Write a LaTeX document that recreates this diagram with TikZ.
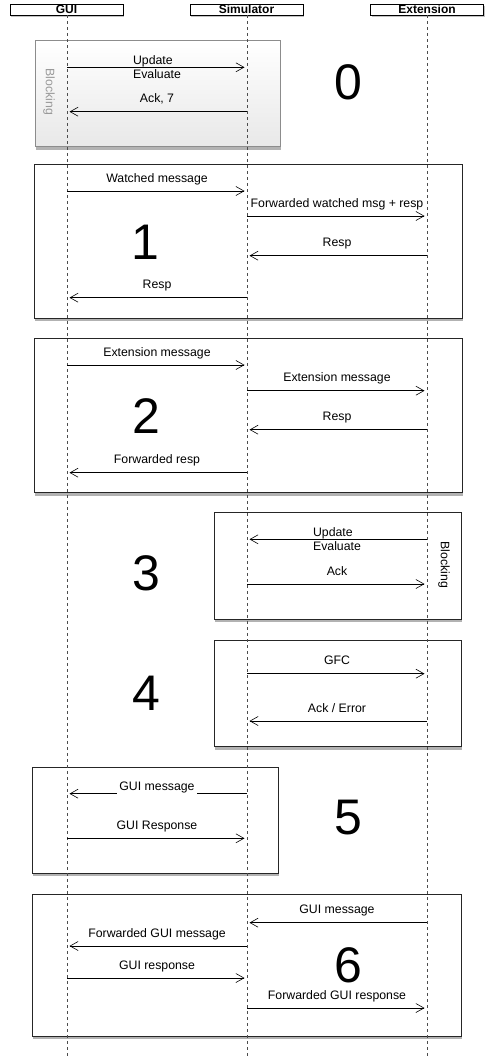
\documentclass[tikz,border=0pt]{standalone}
\usepackage{fontspec}
\setmainfont{Liberation Sans}
\usepackage{tikz}
\usetikzlibrary{arrows.meta,shadows}

\begin{document}
\begin{tikzpicture}[x=1pt, y=-1pt, >={Straight Barb[length=8pt,width=9pt]},
  head/.style={draw, fill=white, font=\bfseries\fontsize{12}{12}\selectfont,
    minimum width=113pt, minimum height=11pt, inner sep=0pt,
    drop shadow={shadow xshift=1pt, shadow yshift=-2pt, opacity=0.4, fill=black!60}},
  frame/.style={draw=black!85, fill=white, line width=0.8pt,
    drop shadow={shadow xshift=1pt, shadow yshift=-3pt, opacity=0.5, fill=black!60}},
  life/.style={black!70, line width=0.6pt, dash pattern=on 3pt off 3pt},
  msg/.style={->, line width=0.6pt, shorten >=2.5pt},
  lbl/.style={midway, above=4.5pt, inner sep=1pt, text depth=3pt,
    font=\fontsize{12.3}{14}\selectfont},
  twolbl/.style={midway, align=left, inner sep=0pt,
    font=\fontsize{12.3}{14}\selectfont},
  big/.style={inner sep=0pt, font=\fontsize{50}{50}\selectfont},
  blk/.style={rotate=-90, font=\fontsize{12.3}{14}\selectfont}]
  \useasboundingbox (0,0) rectangle (485,1059);

  % frames
  \draw[draw=black!45, top color=white, bottom color=black!9, line width=0.6pt,
    drop shadow={shadow xshift=1pt, shadow yshift=-3pt, opacity=0.5, fill=black!60}]
    (35,40.7) rectangle (280,146.7);
  \draw[frame] (34,164) rectangle (462,318);
  \draw[frame] (34,338) rectangle (462,492.7);
  \draw[frame] (214,512.7) rectangle (461,619);
  \draw[frame] (214,640) rectangle (461,746.7);
  \draw[frame] (32,767) rectangle (278,873);
  \draw[frame] (32,894) rectangle (461,1036);

  % participants
  \node[head] (gui) at (66.5,9.5) {GUI};
  \node[head] (sim) at (246.5,9.5) {Simulator};
  \node[head] (ext) at (427,9.5) {Extension};
  \coordinate (guiend) at (67,1059);
  \coordinate (simend) at (247,1059);
  \coordinate (extend) at (427,1059);

  % lifelines
  \draw[life] (gui.south -| guiend) -- (guiend);
  \draw[life] (sim.south -| simend) -- (simend);
  \draw[life] (ext.south -| extend) -- (extend);

  % message rows
  \foreach \r/\y in {a/67.3, b/111.7, c/191, d/216, e/255.7, f/297.7,
                     g/365, h/390.7, i/429.7, j/472.7, k/539.3, l/584,
                     m/673.7, n/721, o/793.7, p/838.3, q/922.7, r/946,
                     s/978, t/1008}
    \foreach \who/\x in {G/67, S/247, E/427}
      \coordinate (\who\r) at (\x,\y);

  % 0
  \draw[msg] (Ga) -- (Sa) node[twolbl] {Update\\Evaluate};
  \draw[msg] (Sb) -- (Gb) node[lbl] {Ack, 7};
  \node[blk, text=black!40] (blk0) at (49,92) {Blocking};
  \node[big] (n0) at (348,82) {0};

  % 1
  \draw[msg] (Gc) -- (Sc) node[lbl] {Watched message};
  \draw[msg] (Sd) -- (Ed) node[lbl] {Forwarded watched msg + resp};
  \draw[msg] (Ee) -- (Se) node[lbl] {Resp};
  \draw[msg] (Sf) -- (Gf) node[lbl] {Resp};
  \node[big] (n1) at (145,242) {1};

  % 2
  \draw[msg] (Gg) -- (Sg) node[lbl] {Extension message};
  \draw[msg] (Sh) -- (Eh) node[lbl] {Extension message};
  \draw[msg] (Ei) -- (Si) node[lbl] {Resp};
  \draw[msg] (Sj) -- (Gj) node[lbl] {Forwarded resp};
  \node[big] (n2) at (146,416) {2};

  % 3
  \draw[msg] (Ek) -- (Sk) node[twolbl] {Update\\Evaluate};
  \draw[msg] (Sl) -- (El) node[lbl] {Ack};
  \node[blk] (blk3) at (444,565) {Blocking};
  \node[big] (n3) at (146,573) {3};

  % 4
  \draw[msg] (Sm) -- (Em) node[lbl] {GFC};
  \draw[msg] (En) -- (Sn) node[lbl] {Ack / Error};
  \node[big] (n4) at (146,693) {4};

  % 5
  \draw[msg] (So) -- (Go) node[midway, anchor=base, yshift=3.4pt, fill=white,
    inner xsep=2pt, inner ysep=1pt, text depth=3pt,
    font=\fontsize{12.3}{14}\selectfont] {GUI message};
  \draw[msg] (Gp) -- (Sp) node[lbl] {GUI Response};
  \node[big] (n5) at (348,818) {5};

  % 6
  \draw[msg] (Eq) -- (Sq) node[lbl] {GUI message};
  \draw[msg] (Sr) -- (Gr) node[lbl] {Forwarded GUI message};
  \draw[msg] (Gs) -- (Ss) node[lbl] {GUI response};
  \draw[msg] (St) -- (Et) node[lbl] {Forwarded GUI response};
  \node[big] (n6) at (348,965) {6};
\end{tikzpicture}
\end{document}
